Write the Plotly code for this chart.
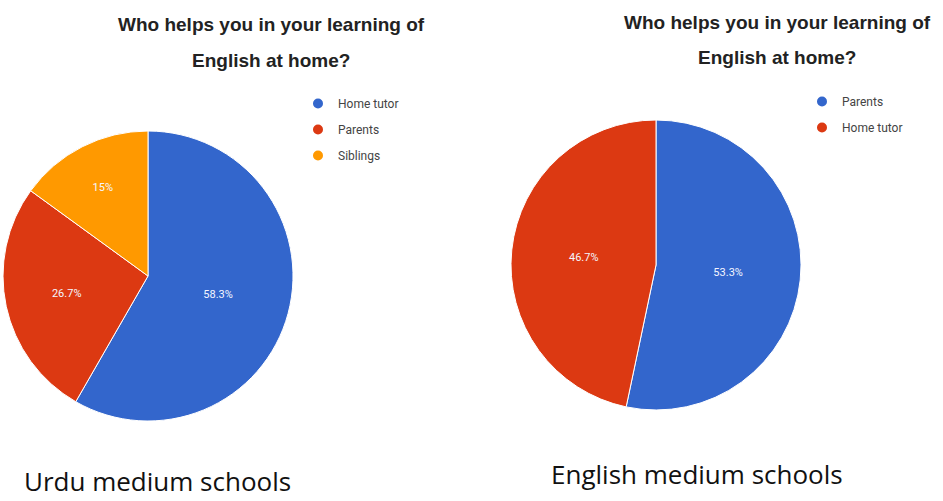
import plotly.graph_objects as go

# Survey answers: who helps pupils with English at home (percent of respondents)
urdu_labels = ["Home tutor", "Parents", "Siblings"]
urdu_values = [58.3, 26.7, 15.0]

english_labels = ["Parents", "Home tutor"]
english_values = [53.3, 46.7]

chart_title = ["Who helps you in your learning of", "English at home?"]
captions = ["Urdu medium schools", "English medium schools"]

BLUE, RED, ORANGE = "#3366cc", "#dc3912", "#ff9900"
urdu_colors = [BLUE, RED, ORANGE]
english_colors = [BLUE, RED]

W, H = 943, 501


def px_x(v):
    return v / W


def px_y(v):
    return 1 - v / H


fig = go.Figure()

pie_common = dict(
    sort=False,
    direction="clockwise",
    rotation=0,
    texttemplate="%{value}%",
    textposition="inside",
    insidetextorientation="horizontal",
    textfont=dict(family="Roboto, Arial, sans-serif", size=11, color="#f4f6ff"),
    marker_line=dict(color="#ffffff", width=1),
    showlegend=False,
    hoverinfo="label+percent",
)

# Urdu medium schools pie
fig.add_trace(go.Pie(
    labels=urdu_labels, values=urdu_values,
    marker_colors=urdu_colors,
    domain=dict(x=[px_x(3), px_x(293)], y=[px_y(421), px_y(131)]),
    **pie_common,
))

# English medium schools pie
fig.add_trace(go.Pie(
    labels=english_labels, values=english_values,
    marker_colors=english_colors,
    domain=dict(x=[px_x(511), px_x(801)], y=[px_y(410), px_y(120)]),
    **pie_common,
))

# Round legend markers, one legend per pie
for i, (lab, col) in enumerate(zip(urdu_labels, urdu_colors)):
    fig.add_trace(go.Scatter(
        x=[None], y=[None], mode="markers", name=lab,
        marker=dict(color=col, size=10, symbol="circle"),
        legend="legend", legendgroup=f"u{i}",
    ))
for i, (lab, col) in enumerate(zip(english_labels, english_colors)):
    fig.add_trace(go.Scatter(
        x=[None], y=[None], mode="markers", name=lab,
        marker=dict(color=col, size=10, symbol="circle"),
        legend="legend2", legendgroup=f"e{i}",
    ))

legend_font = dict(family="Roboto, Arial, sans-serif", size=12, color="#444444")
legend_common = dict(
    font=legend_font, bgcolor="rgba(0,0,0,0)", borderwidth=0,
    traceorder="grouped", tracegroupgap=7,
    xanchor="left", yanchor="top", itemclick=False,
)

annotations = []
title_font = dict(family="Liberation Sans, Arial, sans-serif", size=19, color="#222222")
for cx, ys in [(271, (25, 60)), (777, (22, 57))]:
    for line, yy in zip(chart_title, ys):
        annotations.append(dict(
            text=f"<b>{line}</b>", x=px_x(cx), y=px_y(yy),
            xref="paper", yref="paper", xanchor="center", yanchor="middle",
            showarrow=False, font=title_font,
        ))

caption_font = dict(family="Open Sans, Lato, sans-serif", size=26, color="#111111")
for text, cx, cy in [(captions[0], 157, 481), (captions[1], 697, 474)]:
    annotations.append(dict(
        text=text, x=px_x(cx), y=px_y(cy),
        xref="paper", yref="paper", xanchor="center", yanchor="middle",
        showarrow=False, font=caption_font,
    ))

fig.update_layout(
    width=W, height=H,
    margin=dict(l=0, r=0, t=0, b=0),
    paper_bgcolor="#ffffff", plot_bgcolor="#ffffff",
    xaxis=dict(visible=False), yaxis=dict(visible=False),
    legend=dict(x=px_x(298), y=px_y(89), **legend_common),
    legend2=dict(x=px_x(802), y=px_y(87), **legend_common),
    annotations=annotations,
)

fig.write_html("out.html")
